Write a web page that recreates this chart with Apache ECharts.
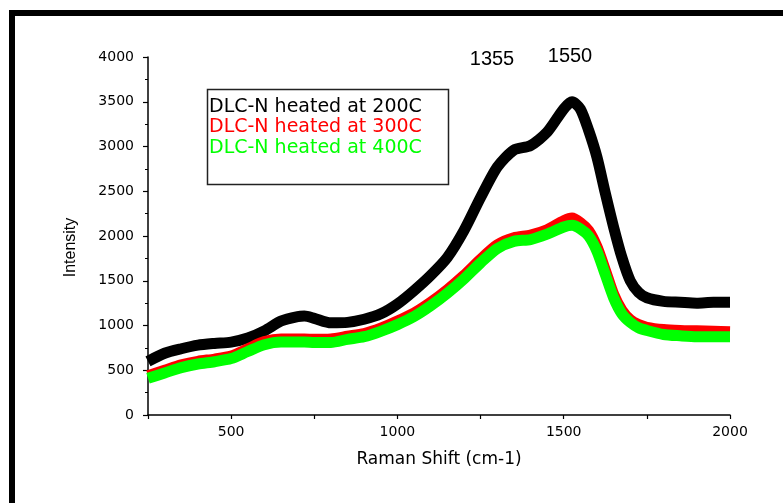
<!DOCTYPE html>
<html>
<head>
<meta charset="utf-8">
<script src="https://cdn.jsdelivr.net/npm/echarts@6/dist/echarts.min.js"></script>
<style>
html,body{margin:0;padding:0;background:#fff;}
#chart{width:783px;height:503px;}
</style>
</head>
<body>
<div id="chart"></div>
<script>
// Raman shift positions (cm-1)
var ramanShift = [250, 300, 350, 400, 450, 500, 550, 600, 650, 700, 720, 750, 800, 850, 900, 950, 1000, 1050, 1100, 1150, 1200, 1250, 1300, 1350, 1400, 1450, 1500, 1525, 1550, 1575, 1600, 1625, 1650, 1675, 1700, 1725, 1750, 1800, 1850, 1900, 1950, 2000];
var dlc200 = [600, 690, 740, 780, 800, 815, 860, 940, 1050, 1100, 1105, 1080, 1030, 1035, 1070, 1130, 1240, 1390, 1560, 1760, 2060, 2430, 2770, 2960, 3010, 3160, 3420, 3500, 3420, 3180, 2880, 2480, 2100, 1760, 1500, 1370, 1310, 1270, 1260, 1250, 1260, 1260];
var dlc300 = [440, 500, 560, 600, 625, 660, 740, 820, 850, 850, 850, 845, 850, 880, 910, 970, 1050, 1140, 1260, 1400, 1560, 1740, 1900, 1980, 2010, 2070, 2170, 2200, 2150, 2060, 1880, 1620, 1350, 1170, 1065, 1010, 980, 955, 945, 940, 935, 930];
var dlc400 = [410, 470, 530, 570, 595, 630, 710, 785, 815, 815, 815, 810, 810, 845, 875, 935, 1010, 1100, 1220, 1360, 1520, 1700, 1860, 1940, 1960, 2020, 2100, 2120, 2080, 2000, 1830, 1570, 1310, 1130, 1035, 975, 945, 900, 885, 875, 875, 875];
var yTicks = [0, 500, 1000, 1500, 2000, 2500, 3000, 3500, 4000];
var xTickLabels = [500, 1000, 1500, 2000];
var seriesNames = ['DLC-N heated at 200C', 'DLC-N heated at 300C', 'DLC-N heated at 400C'];
var seriesColors = ['#000000', '#ff0000', '#00ff00'];
var peakLabels = ['1355', '1550'];

function pairs(ys) {
  return ramanShift.map(function (x, i) { return [x, ys[i]]; });
}

var chart = echarts.init(document.getElementById('chart'));
var axisFont = 'DejaVu Sans';

var option = {
  backgroundColor: '#ffffff',
  animation: false,
  grid: { left: 148, right: 53, top: 57, bottom: 88 },
  xAxis: {
    type: 'value',
    min: 250,
    max: 2000,
    interval: 250,
    name: 'Raman Shift (cm-1)',
    nameLocation: 'middle',
    nameGap: 36,
    nameTextStyle: { fontFamily: axisFont, fontSize: 17, color: '#000' },
    axisLine: { onZero: false, lineStyle: { color: '#000', width: 1.5 } },
    axisTick: { show: true, length: 4, inside: false, lineStyle: { color: '#000', width: 1.2 } },
    axisLabel: {
      margin: 10,
      fontFamily: axisFont,
      fontSize: 14,
      color: '#000',
      showMinLabel: true,
      showMaxLabel: true,
      formatter: function (v) { return xTickLabels.indexOf(v) >= 0 ? String(v) : ''; }
    },
    splitLine: { show: false }
  },
  yAxis: {
    type: 'value',
    min: 0,
    max: 4000,
    interval: 500,
    axisLine: { show: true, onZero: false, lineStyle: { color: '#000', width: 1.5 } },
    axisTick: { show: true, length: 5, inside: false, lineStyle: { color: '#000', width: 1.2 } },
    minorTick: { show: true, splitNumber: 2, length: 3, lineStyle: { color: '#000', width: 1 } },
    axisLabel: {
      margin: 14,
      fontFamily: axisFont,
      fontSize: 14,
      color: '#000',
      formatter: function (v) { return yTicks.indexOf(v) >= 0 ? String(v) : ''; }
    },
    splitLine: { show: false }
  },
  series: [0, 1, 2].map(function (i) {
    var d = [dlc200, dlc300, dlc400][i];
    return {
      name: seriesNames[i],
      type: 'line',
      data: pairs(d),
      showSymbol: false,
      smooth: 0.25,
      z: 2 + i,
      lineStyle: { color: seriesColors[i], width: 11, cap: 'butt', join: 'round' },
      itemStyle: { color: seriesColors[i] }
    };
  }),
  graphic: [
    { type: 'rect', shape: { x: 9, y: 10, width: 774, height: 6 }, style: { fill: '#000' }, silent: true },
    { type: 'rect', shape: { x: 9, y: 10, width: 6, height: 493 }, style: { fill: '#000' }, silent: true },
    { type: 'rect', shape: { x: 207.5, y: 89.5, width: 241, height: 95 }, style: { fill: 'rgba(0,0,0,0)', stroke: '#222', lineWidth: 1.5 }, z: 10 },
    { type: 'text', x: 209, y: 107.5, style: { text: seriesNames[0], fill: seriesColors[0], font: '19px "DejaVu Sans"', textVerticalAlign: 'middle' }, z: 10 },
    { type: 'text', x: 209, y: 127.5, style: { text: seriesNames[1], fill: seriesColors[1], font: '19px "DejaVu Sans"', textVerticalAlign: 'middle' }, z: 10 },
    { type: 'text', x: 209, y: 148, style: { text: seriesNames[2], fill: seriesColors[2], font: '19px "DejaVu Sans"', textVerticalAlign: 'middle' }, z: 10 },
    { type: 'text', x: 492, y: 59, style: { text: peakLabels[0], fill: '#000', font: '20px "Liberation Sans"', textAlign: 'center', textVerticalAlign: 'middle' }, z: 10 },
    { type: 'text', x: 570, y: 56, style: { text: peakLabels[1], fill: '#000', font: '20px "Liberation Sans"', textAlign: 'center', textVerticalAlign: 'middle' }, z: 10 },
    { type: 'text', x: 71, y: 247.5, rotation: Math.PI / 2, style: { text: 'Intensity', fill: '#000', font: '16px "Liberation Sans"', textAlign: 'center', textVerticalAlign: 'middle' }, z: 10 }
  ]
};
chart.setOption(option);
</script>
</body>
</html>
